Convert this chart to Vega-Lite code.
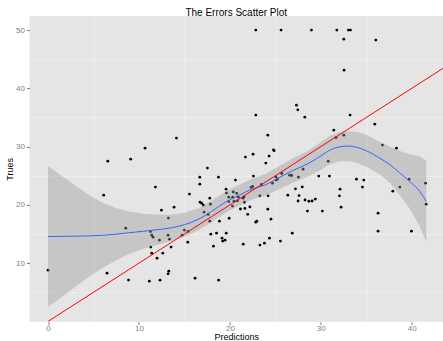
{
  "$schema": "https://vega.github.io/schema/vega-lite/v6.json",
  "width": 413.5,
  "height": 305.7,
  "autosize": {"type": "none"},
  "padding": {"left": 29.5, "top": 16, "right": 0, "bottom": 19.3},
  "background": "white",
  "config": {
    "view": {"fill": "#E5E5E5", "stroke": null},
    "font": "Liberation Sans",
    "axis": {
      "domain": false,
      "labelColor": "#7F7F7F",
      "labelFontSize": 8,
      "labelOverlap": false,
      "tickColor": "#7F7F7F",
      "tickSize": 3,
      "titleFontSize": 9,
      "titleFontWeight": "normal",
      "titleColor": "#000000",
      "gridColor": "#FFFFFF",
      "gridWidth": 1.1
    },
    "title": {"fontSize": 10, "fontWeight": "normal", "color": "#000000", "offset": -1.5}
  },
  "title": {"text": "The Errors Scatter Plot", "anchor": "middle"},
  "datasets": {
    "points": [
      {"x":22.85,"y":50},{"x":25.63,"y":50},{"x":28.97,"y":50},{"x":31.76,"y":50},{"x":33.04,"y":50},{"x":33.26,"y":50},
      {"x":32.53,"y":48.45},{"x":36.05,"y":48.28},{"x":32.56,"y":43.13},{"x":22.85,"y":35.41},{"x":33.22,"y":35.41},
      {"x":27.32,"y":37.12},{"x":27.47,"y":36.32},{"x":28.24,"y":35.06},{"x":35.94,"y":33.86},{"x":31.43,"y":32.83},
      {"x":31.68,"y":31.56},{"x":32.53,"y":31.97},{"x":36.78,"y":30.26},{"x":38.32,"y":29.74},{"x":10.67,"y":29.74},
      {"x":14.12,"y":31.46},{"x":6.57,"y":27.51},{"x":9.09,"y":27.85},{"x":6.12,"y":21.67},{"x":11.81,"y":23.05},
      {"x":12.47,"y":19.1},{"x":13.24,"y":17.73},{"x":13.86,"y":19.61},{"x":15.55,"y":21.85},{"x":16.69,"y":24.76},
      {"x":16.69,"y":23.56},{"x":17.53,"y":26.31},{"x":18.74,"y":24.76},{"x":16.72,"y":20.47},{"x":16.9,"y":20.3},
      {"x":17.08,"y":19.96},{"x":17.79,"y":21.16},{"x":17.86,"y":20.13},{"x":17.16,"y":18.76},{"x":17.6,"y":18.36},
      {"x":17.79,"y":17.2},{"x":18.85,"y":17.2},{"x":19.58,"y":22.7},{"x":19.62,"y":22.03},{"x":20.37,"y":22.22},
      {"x":20.75,"y":21.98},{"x":20.61,"y":24.25},{"x":19.88,"y":21.33},{"x":20.31,"y":21.33},{"x":20.93,"y":21.33},
      {"x":19.88,"y":20.6},{"x":20.46,"y":20.64},{"x":20.83,"y":20.7},{"x":21.45,"y":21.16},{"x":21.56,"y":21.4},
      {"x":21.6,"y":20.45},{"x":20.28,"y":19.8},{"x":21.16,"y":19.3},{"x":21.65,"y":19.4},{"x":22.2,"y":19.65},
      {"x":21.96,"y":18.38},{"x":19.92,"y":17.7},{"x":21.71,"y":28.2},{"x":22.55,"y":28.71},{"x":22.33,"y":23.0},
      {"x":22.5,"y":23.15},{"x":22.59,"y":24.94},{"x":23.3,"y":21.55},{"x":23.47,"y":23.5},{"x":23.95,"y":27.17},
      {"x":24.17,"y":31.97},{"x":24.31,"y":28.37},{"x":24.79,"y":29.45},{"x":24.86,"y":29.3},{"x":24.2,"y":21.55},
      {"x":24.17,"y":19.27},{"x":24.52,"y":17.55},{"x":24.68,"y":23.73},{"x":25.05,"y":24.8},{"x":25.1,"y":24.25},
      {"x":25.25,"y":24.45},{"x":25.71,"y":25.39},{"x":26.37,"y":21.67},{"x":26.57,"y":25.1},{"x":26.8,"y":25.05},
      {"x":27.21,"y":22.76},{"x":27.54,"y":24.76},{"x":27.61,"y":21.6},{"x":27.5,"y":20.67},{"x":27.96,"y":23.08},
      {"x":28.05,"y":26.13},{"x":28.26,"y":20.84},{"x":28.53,"y":18.93},{"x":28.69,"y":20.62},{"x":29.04,"y":20.67},
      {"x":29.4,"y":20.99},{"x":29.78,"y":24.94},{"x":30.17,"y":18.93},{"x":30.82,"y":27.51},{"x":30.95,"y":24.94},
      {"x":32.12,"y":22.7},{"x":32.05,"y":21.55},{"x":32.23,"y":19.61},{"x":33.92,"y":24.42},{"x":34.58,"y":23.05},
      {"x":34.73,"y":24.25},{"x":36.3,"y":18.58},{"x":37.92,"y":22.36},{"x":38.69,"y":23.05},{"x":39.71,"y":24.42},
      {"x":41.51,"y":23.73},{"x":41.58,"y":20.13},{"x":8.55,"y":16.0},{"x":11.26,"y":15.42},{"x":11.4,"y":14.8},
      {"x":11.55,"y":14.46},{"x":12.25,"y":13.95},{"x":13.2,"y":14.8},{"x":13.35,"y":14.12},{"x":14.99,"y":15.67},
      {"x":15.4,"y":15.45},{"x":14.74,"y":14.8},{"x":15.37,"y":13.6},{"x":11.3,"y":12.75},{"x":13.53,"y":12.75},
      {"x":11.4,"y":11.72},{"x":12.62,"y":11.72},{"x":11.99,"y":10.86},{"x":0,"y":8.8},{"x":6.49,"y":8.28},
      {"x":8.85,"y":7.1},{"x":11.14,"y":6.91},{"x":12.32,"y":7.08},{"x":13.2,"y":8.16},{"x":13.28,"y":8.63},
      {"x":16.17,"y":7.42},{"x":18.76,"y":7.08},{"x":17.9,"y":14.98},{"x":18.19,"y":12.92},{"x":18.53,"y":15.15},
      {"x":19.14,"y":14.29},{"x":19.21,"y":13.78},{"x":19.47,"y":13.95},{"x":19.6,"y":15.15},{"x":21.47,"y":13.26},
      {"x":22.85,"y":17.04},{"x":22.96,"y":17.21},{"x":23.31,"y":13.1},{"x":23.8,"y":13.43},{"x":24.35,"y":14.29},
      {"x":25.56,"y":13.78},{"x":26.86,"y":15.15},{"x":36.3,"y":15.49},{"x":39.97,"y":15.49}
    ],
    "smooth": [
      {"x":0,"fit":14.57,"lo":2.47,"hi":26.67},
      {"x":1.5,"fit":14.6,"lo":4.2,"hi":25.0},
      {"x":3,"fit":14.63,"lo":5.93,"hi":23.33},
      {"x":4.5,"fit":14.68,"lo":7.68,"hi":21.68},
      {"x":6,"fit":14.78,"lo":9.18,"hi":20.38},
      {"x":7.5,"fit":14.98,"lo":10.48,"hi":19.48},
      {"x":9,"fit":15.23,"lo":11.63,"hi":18.83},
      {"x":10.5,"fit":15.48,"lo":12.48,"hi":18.48},
      {"x":12,"fit":15.73,"lo":13.13,"hi":18.33},
      {"x":13.5,"fit":16.05,"lo":13.8,"hi":18.3},
      {"x":15,"fit":16.6,"lo":14.55,"hi":18.65},
      {"x":16.5,"fit":17.5,"lo":15.6,"hi":19.4},
      {"x":18,"fit":18.9,"lo":17.05,"hi":20.75},
      {"x":19.5,"fit":20.45,"lo":18.65,"hi":22.25},
      {"x":21,"fit":21.65,"lo":19.85,"hi":23.45},
      {"x":22.5,"fit":22.75,"lo":20.95,"hi":24.55},
      {"x":24,"fit":23.5,"lo":21.6,"hi":25.4},
      {"x":25.5,"fit":24.75,"lo":22.75,"hi":26.75},
      {"x":27,"fit":25.95,"lo":23.85,"hi":28.05},
      {"x":28.5,"fit":27.0,"lo":24.8,"hi":29.2},
      {"x":30,"fit":28.4,"lo":26.05,"hi":30.75},
      {"x":31,"fit":29.4,"lo":26.95,"hi":31.85},
      {"x":32,"fit":29.95,"lo":27.45,"hi":32.45},
      {"x":33,"fit":30.1,"lo":27.55,"hi":32.65},
      {"x":34,"fit":29.85,"lo":27.2,"hi":32.5},
      {"x":35,"fit":29.3,"lo":26.55,"hi":32.05},
      {"x":36.5,"fit":28.0,"lo":25.2,"hi":30.8},
      {"x":37.6,"fit":26.9,"lo":23.8,"hi":30.0},
      {"x":38.7,"fit":25.45,"lo":21.65,"hi":29.25},
      {"x":39.8,"fit":24.0,"lo":19.3,"hi":28.7},
      {"x":40.9,"fit":22.3,"lo":16.3,"hi":28.3},
      {"x":41.6,"fit":20.6,"lo":13.6,"hi":27.6}
    ],
    "identity": [{"x":0,"y":0},{"x":50,"y":50}]
  },
  "resolve": {"axis": {"x": "independent", "y": "independent"}},
  "layer": [
    {
      "data": {"name": "smooth"},
      "mark": {"type": "area", "color": "#999999", "opacity": 0},
      "encoding": {
        "x": {"field": "x", "type": "quantitative",
              "scale": {"domain": [-2.04, 43.44], "nice": false, "zero": false},
              "axis": {"orient": "bottom", "values": [5,15,25,35], "labels": false, "ticks": false, "title": null, "gridColor": "#F3F3F3", "gridWidth": 0.6}},
        "y": {"field": "lo", "type": "quantitative",
              "scale": {"domain": [-0.05, 52.42], "nice": false, "zero": false},
              "axis": {"orient": "left", "values": [5,15,25,35,45], "labels": false, "ticks": false, "title": null, "gridColor": "#F3F3F3", "gridWidth": 0.6}},
        "y2": {"field": "hi"}
      }
    },
    {
      "data": {"name": "points"},
      "mark": {"type": "circle", "color": "#000000", "opacity": 1, "size": 8},
      "encoding": {
        "x": {"field": "x", "type": "quantitative",
              "axis": {"orient": "bottom", "title": "Predictions", "values": [0,10,20,30,40], "labelPadding": 0, "titleY": 18.0, "titleBaseline": "alphabetic"}},
        "y": {"field": "y", "type": "quantitative",
              "axis": {"orient": "left", "title": "Trues", "values": [10,20,30,40,50], "labelPadding": 2, "titlePadding": 1}}
      }
    },
    {
      "data": {"name": "smooth"},
      "mark": {"type": "area", "color": "#999999", "opacity": 0.4},
      "encoding": {
        "x": {"field": "x", "type": "quantitative", "axis": null},
        "y": {"field": "lo", "type": "quantitative", "axis": null},
        "y2": {"field": "hi"}
      }
    },
    {
      "data": {"name": "smooth"},
      "mark": {"type": "line", "color": "#3366FF", "strokeWidth": 1, "interpolate": "monotone"},
      "encoding": {
        "x": {"field": "x", "type": "quantitative", "axis": null},
        "y": {"field": "fit", "type": "quantitative", "axis": null}
      }
    },
    {
      "data": {"name": "identity"},
      "mark": {"type": "line", "color": "#FF0000", "strokeWidth": 1, "clip": true},
      "encoding": {
        "x": {"field": "x", "type": "quantitative", "axis": null},
        "y": {"field": "y", "type": "quantitative", "axis": null}
      }
    }
  ]
}
